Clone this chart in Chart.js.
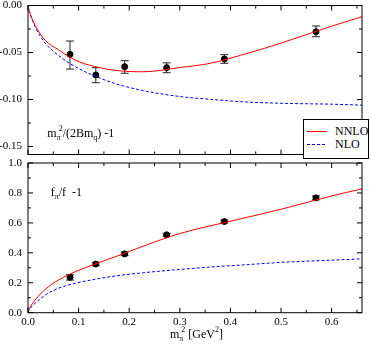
<!DOCTYPE html>
<html>
<head>
<meta charset="utf-8">
<script src="https://cdn.jsdelivr.net/npm/chart.js@4.4.1/dist/chart.umd.min.js"></script>
<style>
  body { margin: 0; background: #fff; width: 371px; height: 346px; position: relative; overflow: hidden; font-family: "Liberation Serif", serif; }
  canvas { position: absolute; left: 0; }
  #topChart { top: 0; }
  #botChart { top: 158px; }
  #legend { position: absolute; left: 303px; top: 119px; width: 64px; height: 38px; border: 1px solid #000; background: #fff; font-size: 12px; }
  #legend svg { position: absolute; left: 3px; top: 0; }
  #legend .lt { position: absolute; left: 31px; line-height: 14px; }
</style>
</head>
<body>
<canvas id="topChart" width="371" height="160"></canvas>
<canvas id="botChart" width="371" height="188"></canvas>
<div id="legend">
  <svg width="22" height="38">
    <line x1="0" y1="11.5" x2="20" y2="11.5" stroke="#ff0000" stroke-width="1"/>
    <line x1="0" y1="24.5" x2="20" y2="24.5" stroke="#0000ff" stroke-width="1" stroke-dasharray="3,2"/>
  </svg>
  <span class="lt" style="top:4px">NNLO</span>
  <span class="lt" style="top:17px">NLO</span>
</div>
<script>
// lattice points (x = m_pi^2 in GeV^2)
const pointX = [0.083, 0.134, 0.191, 0.274, 0.388, 0.569];
const massY  = [-0.0519, -0.0739, -0.0651, -0.0661, -0.0569, -0.0279];
const massLo = [-0.0676, -0.0821, -0.0721, -0.0715, -0.0615, -0.0332];
const massHi = [-0.0378, -0.0662, -0.0587, -0.0610, -0.0523, -0.0218];
const decayY   = [0.236, 0.325, 0.393, 0.520, 0.609, 0.767];
const decayErr = [0.018, 0.012, 0.012, 0.010, 0.010, 0.013];

// fit curves
const curveX    = [0, 0.002, 0.005, 0.014, 0.034, 0.06, 0.093, 0.132, 0.172, 0.228, 0.30, 0.36, 0.42, 0.5, 0.6, 0.66];
const massNNLO  = [0, -0.005, -0.010, -0.021, -0.037, -0.047, -0.058, -0.065, -0.069, -0.0705, -0.066, -0.0615, -0.053, -0.040, -0.022, -0.012];
const massNLO   = [0, -0.005, -0.010, -0.0225, -0.040, -0.053, -0.065, -0.075, -0.083, -0.0906, -0.0968, -0.0998, -0.1023, -0.104, -0.105, -0.106];
const decayNNLO = [0, 0.022, 0.042, 0.085, 0.156, 0.218, 0.273, 0.325, 0.373, 0.445, 0.529, 0.58, 0.627, 0.691, 0.78, 0.827];
const decayNLO  = [0, 0.018, 0.032, 0.063, 0.118, 0.163, 0.196, 0.223, 0.245, 0.267, 0.289, 0.305, 0.318, 0.336, 0.351, 0.36];

// ticks
const xTicks = [0, 0.1, 0.2, 0.3, 0.4, 0.5, 0.6];
const xMinor = [0.05, 0.15, 0.25, 0.35, 0.45, 0.55, 0.65];
const topYTicks = [0, -0.05, -0.1, -0.15];
const topYMinor = [-0.025, -0.075, -0.125];
const botYTicks = [0, 0.2, 0.4, 0.6, 0.8, 1.0];
const botYMinor = [0.1, 0.3, 0.5, 0.7, 0.9];

Chart.defaults.font.family = '"Liberation Serif", serif';
Chart.defaults.font.size = 11;
Chart.defaults.color = '#000';

const pts = (xs, ys) => xs.map((x, i) => ({ x: x, y: ys[i] }));

// draw text with sub/superscripts: [text, size, dy, stack]
function drawRich(ctx, x, y, parts) {
  let cx = x, prevStart = x, maxEnd = x;
  ctx.textBaseline = 'alphabetic';
  ctx.textAlign = 'left';
  ctx.fillStyle = '#000';
  parts.forEach(p => {
    ctx.font = p[1] + 'px "Liberation Serif", serif';
    let sx = p[3] ? prevStart + 2 : cx;
    ctx.fillText(p[0], sx, y + p[2]);
    let end = sx + ctx.measureText(p[0]).width;
    maxEnd = Math.max(maxEnd, end);
    prevStart = sx;
    cx = p[3] ? maxEnd : end;
    if (!p[3]) maxEnd = end;
  });
}

const frame = {
  id: 'frame',
  beforeDatasetsDraw(chart, args, o) {
    const { ctx, scales: { x, y } } = chart;
    ctx.save();
    ctx.strokeStyle = '#222';
    ctx.lineWidth = 1;
    pointX.forEach((px, i) => {
      const xp = x.getPixelForValue(px);
      const lo = y.getPixelForValue(o.lo[i]), hi = y.getPixelForValue(o.hi[i]);
      ctx.beginPath();
      ctx.moveTo(xp, lo); ctx.lineTo(xp, hi);
      ctx.moveTo(xp - 4, lo); ctx.lineTo(xp + 4, lo);
      ctx.moveTo(xp - 4, hi); ctx.lineTo(xp + 4, hi);
      ctx.stroke();
    });
    ctx.restore();
  },
  afterDraw(chart, args, o) {
    const { ctx, chartArea: a, scales: { x, y } } = chart;
    ctx.save();
    ctx.strokeStyle = '#000';
    ctx.lineWidth = 1;
    ctx.strokeRect(a.left, a.top, a.right - a.left, a.bottom - a.top);
    ctx.beginPath();
    const tx = (v, len) => {
      const p = x.getPixelForValue(v);
      ctx.moveTo(p, a.bottom); ctx.lineTo(p, a.bottom - len);
      ctx.moveTo(p, a.top); ctx.lineTo(p, a.top + len);
    };
    const ty = (v, len) => {
      const p = y.getPixelForValue(v);
      ctx.moveTo(a.left, p); ctx.lineTo(a.left + len, p);
      ctx.moveTo(a.right, p); ctx.lineTo(a.right - len, p);
    };
    xTicks.forEach(v => tx(v, 5));
    xMinor.forEach(v => tx(v, 3));
    o.yMajor.forEach(v => ty(v, 5));
    o.yMinor.forEach(v => ty(v, 3));
    ctx.stroke();
    ctx.restore();
    o.texts.forEach(t => drawRich(ctx, t[0], t[1], t[2]));
  }
};

function makeChart(id, curveA, curveB, dataY, yMin, yMax, yTicks, fmt, opts) {
  return new Chart(document.getElementById(id), {
    type: 'scatter',
    data: {
      datasets: [
        { label: 'NNLO', data: pts(curveX, curveA), showLine: true, borderColor: '#ff0000', borderWidth: 1,
          pointRadius: 0, cubicInterpolationMode: 'monotone' },
        { label: 'NLO', data: pts(curveX, curveB), showLine: true, borderColor: '#0000ff', borderWidth: 1,
          borderDash: [3, 2], pointRadius: 0, cubicInterpolationMode: 'monotone' },
        { label: 'data', data: pts(pointX, dataY), pointRadius: 3, borderWidth: 1,
          backgroundColor: '#000', borderColor: '#000' }
      ]
    },
    plugins: [frame],
    options: {
      responsive: false,
      animation: false,
      devicePixelRatio: 1,
      layout: { padding: { top: opts.padTop, right: 9, left: 0, bottom: 0 } },
      plugins: {
        legend: { display: false },
        tooltip: { enabled: false },
        frame: { lo: opts.lo, hi: opts.hi, yMajor: yTicks, yMinor: opts.yMinor, texts: opts.texts }
      },
      scales: {
        x: {
          type: 'linear', min: 0, max: 0.66,
          grid: { display: false, drawTicks: false },
          border: { display: false },
          afterBuildTicks: s => { s.ticks = xTicks.map(v => ({ value: v })); },
          afterFit: s => { s.height = opts.xHeight; s.paddingLeft = 0; s.paddingRight = 0; },
          ticks: { display: opts.xLabels, autoSkip: false, maxRotation: 0, padding: 3,
                   callback: v => v.toFixed(1) }
        },
        y: {
          type: 'linear', min: yMin, max: yMax,
          grid: { display: false, drawTicks: false },
          border: { display: false },
          afterBuildTicks: s => { s.ticks = yTicks.map(v => ({ value: v })); },
          afterFit: s => { s.width = 28; s.paddingTop = 0; s.paddingBottom = 0; },
          ticks: { padding: 6, callback: fmt }
        }
      }
    }
  });
}

makeChart('topChart', massNNLO, massNLO, massY, -0.1585, 0, topYTicks, v => v.toFixed(2), {
  padTop: 5.5, xHeight: 5.5, xLabels: false,
  lo: massLo, hi: massHi, yMinor: topYMinor,
  texts: [[47.3, 137, [['m', 12, 0], ['\u03c0', 8, 3], ['2', 8, -6, true], ['/(2Bm', 12, 0], ['q', 8, 3], [') -1', 12, 0]]]]
});

makeChart('botChart', decayNNLO, decayNLO, decayY, 0, 1, botYTicks, v => v.toFixed(1), {
  padTop: 4.3, xHeight: 33.3, xLabels: true,
  lo: decayY.map((v, i) => v - decayErr[i]), hi: decayY.map((v, i) => v + decayErr[i]), yMinor: botYMinor,
  texts: [
    [50.7, 196 - 158, [['f', 12, 0], ['\u03c0', 8, 3], ['/f  -1', 12, 0]]],
    [170, 338.3 - 158, [['m', 12, 0], ['\u03c0', 8, 3], ['2', 8, -6, true], [' [GeV', 12, 0], ['2', 8, -6], [']', 12, 0]]]
  ]
});
</script>
</body>
</html>
